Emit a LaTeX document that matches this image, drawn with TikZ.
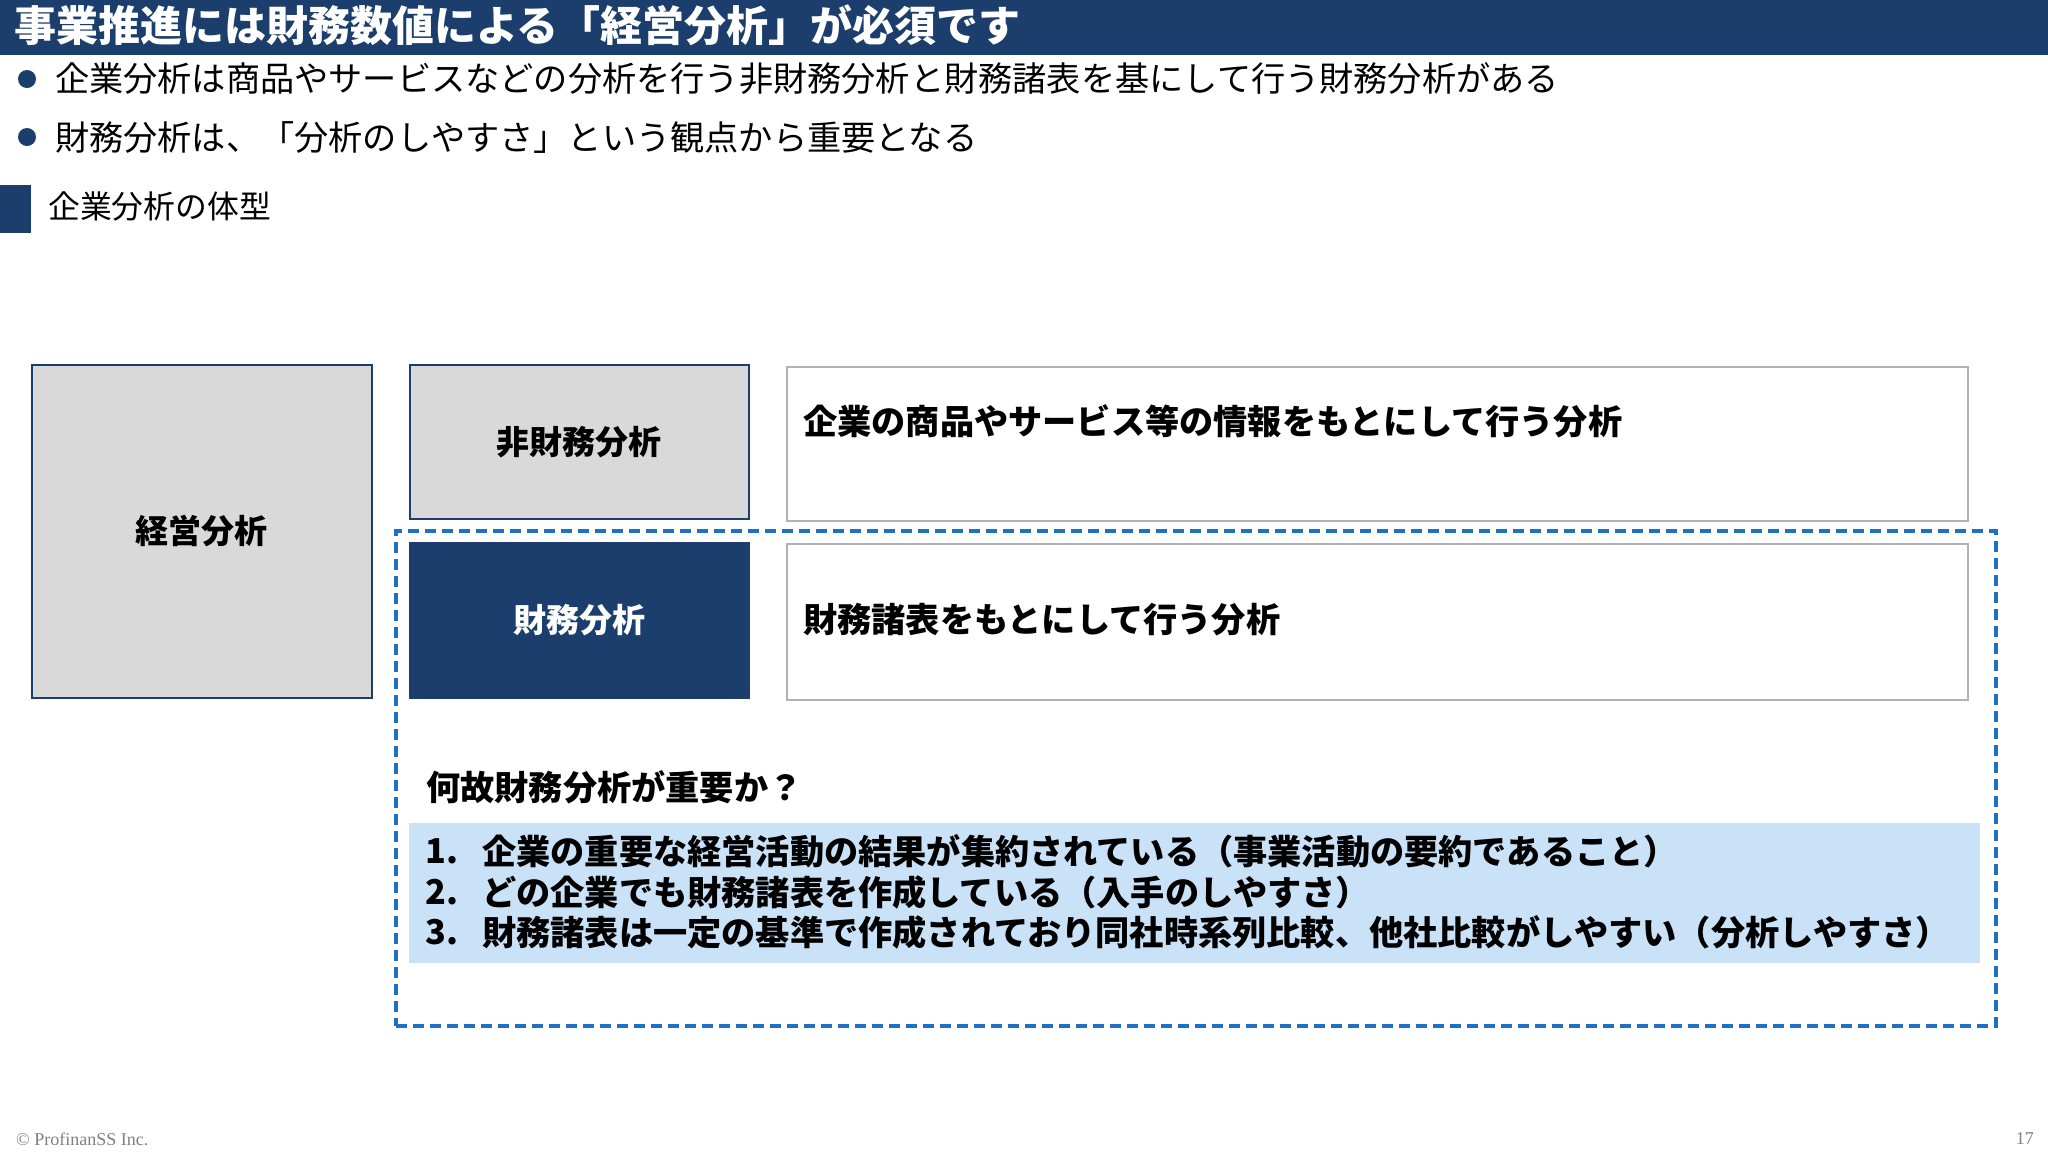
\documentclass[tikz,border=0pt]{standalone}
\usepackage{fontspec}
\setmainfont{Noto Sans CJK JP}
\newfontfamily\footfont{Liberation Serif}
\usetikzlibrary{positioning}
\definecolor{navy}{HTML}{1B3E6C}
\definecolor{dashblue}{HTML}{1F6FC4}
\definecolor{lightblue}{HTML}{C9E2F7}
\definecolor{boxgray}{HTML}{D9D9D9}
\tikzset{g/.style={rectangle,draw=navy,line width=1.5pt,fill=boxgray,anchor=north west,font=\fontsize{33}{40}\selectfont\bfseries},
         w/.style={rectangle,draw=gray!60,line width=1.5pt,fill=white,anchor=north west},
         t/.style={anchor=west,inner sep=0pt,font=\fontsize{34.2}{40}\selectfont\bfseries},
         bl/.style={anchor=west,inner sep=0pt,font=\fontsize{34.2}{40}\selectfont},
         dot/.style={circle,fill=navy,minimum size=18pt,inner sep=0pt}}

\begin{document}
\begin{tikzpicture}[x=1pt,y=-1pt]
\useasboundingbox (0,0) rectangle (2048,1152);
\fill[white] (0,0) rectangle (2048,1152);
\node[rectangle,fill=navy,minimum width=2048pt,minimum height=55pt,anchor=north west,inner sep=0pt] at (0,0)(bar){};
\node[anchor=west,inner sep=0pt,text=white,font=\fontsize{42}{46}\selectfont\bfseries] at (14,25)(title){事業推進には財務数値による「経営分析」が必須です};
\node[dot] at (27,79)(d1){};
\node[bl] at (55,79)(b1){企業分析は商品やサービスなどの分析を行う非財務分析と財務諸表を基にして行う財務分析がある};
\node[dot] at (27,137)(d2){};
\node[bl] at (55,137)(b2){財務分析は、「分析のしやすさ」という観点から重要となる};
\node[rectangle,fill=navy,minimum width=31pt,minimum height=48pt,anchor=north west,inner sep=0pt] at (0,185)(mk){};
\node[anchor=west,inner sep=0pt,font=\fontsize{31.8}{36}\selectfont] at (48,206)(sub){企業分析の体型};
\node[g,minimum width=340pt,minimum height=333pt] at (31,364)(keiei){経営分析};
\node[g,minimum width=339pt,minimum height=154pt] at (409,364)(hizaimu){非財務分析};
\node[g,fill=navy,draw=navy,text=white,minimum width=339pt,minimum height=155pt] at (409,542)(zaimu){財務分析};
\node[w,minimum width=1181pt,minimum height=154pt] at (786,366)(r1){};
\node[t] at (803,421)(r1t){企業の商品やサービス等の情報をもとにして行う分析};
\node[w,minimum width=1181pt,minimum height=156pt] at (786,543)(r2){};
\node[t] at (803,620)(r2t){財務諸表をもとにして行う分析};
\node[rectangle,draw=dashblue,line width=3.5pt,dash pattern=on 11pt off 6pt,minimum width=1600pt,minimum height=495pt,anchor=north west] at (394,529)(frame){};
\node[t] at (426,787)(q){何故財務分析が重要か？};
\node[rectangle,fill=lightblue,minimum width=1571pt,minimum height=140pt,anchor=north west,inner sep=0pt] at (409,823)(lst){};
\node[t] at (425,851)(n1){1.};
\node[t] at (482,851)(l1){企業の重要な経営活動の結果が集約されている（事業活動の要約であること）};
\node[t] at (425,892)(n2){2.};
\node[t] at (482,892)(l2){どの企業でも財務諸表を作成している（入手のしやすさ）};
\node[t] at (425,932)(n3){3.};
\node[t] at (482,932)(l3){財務諸表は一定の基準で作成されており同社時系列比較、他社比較がしやすい（分析しやすさ）};
\node[anchor=west,inner sep=0pt,text=gray,font=\footfont\fontsize{18}{20}\selectfont] at (16,1139)(copy){© ProfinanSS Inc.};
\node[anchor=east,inner sep=0pt,text=gray,font=\footfont\fontsize{18}{20}\selectfont] at (2034,1139)(page){17};
\end{tikzpicture}
\end{document}
